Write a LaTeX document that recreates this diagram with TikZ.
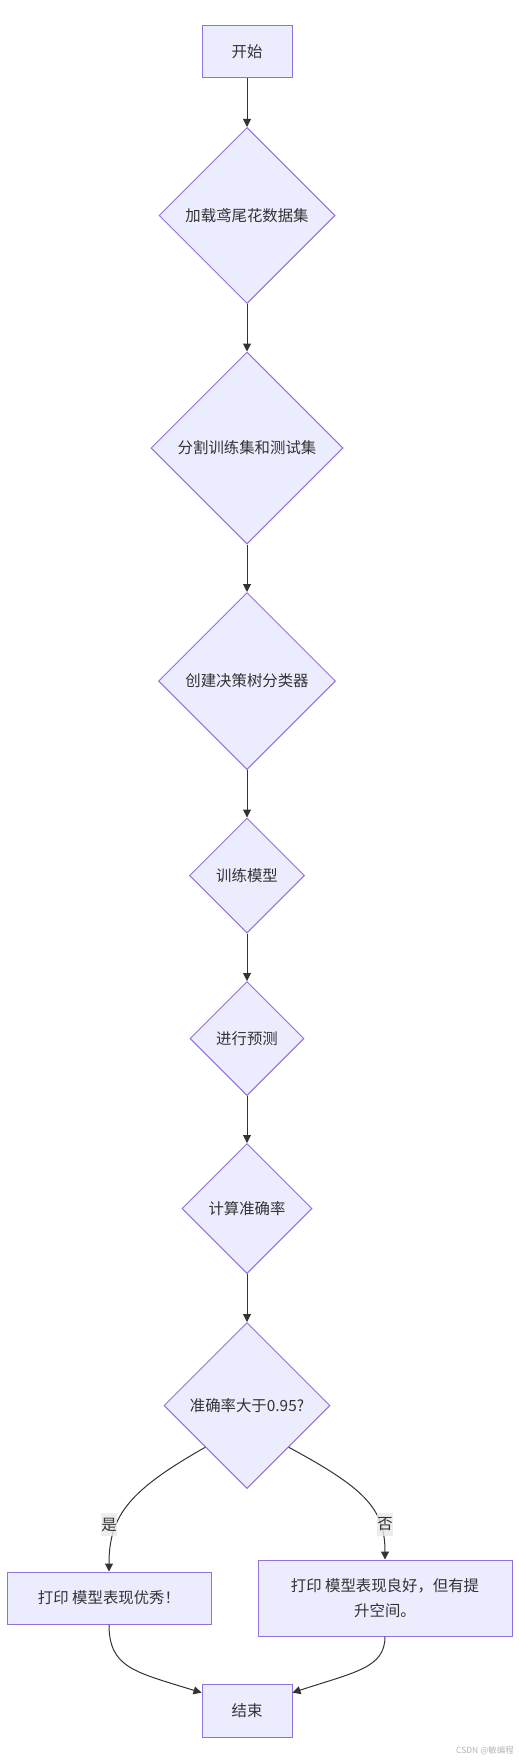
\documentclass[tikz,border=0pt]{standalone}
\usepackage{fontspec}
\setmainfont{Noto Sans CJK SC}
\usetikzlibrary{shapes.geometric,arrows.meta,calc}
\definecolor{nfill}{HTML}{ECECFF}
\definecolor{nstroke}{HTML}{9370DB}
\definecolor{eline}{HTML}{333333}
\definecolor{lblbg}{HTML}{E8E8E8}
\definecolor{wm}{HTML}{B4B4B4}
\tikzset{
  box/.style={draw=nstroke,fill=nfill,line width=1pt,rectangle,inner sep=0pt,text=eline,font=\fontsize{15.4}{25}\selectfont,align=center},
  dia/.style={draw=nstroke,fill=nfill,line width=1pt,diamond,aspect=1,inner sep=0pt,text=eline,font=\fontsize{15.4}{19}\selectfont},
  edge/.style={draw=eline,line width=1pt,-{Triangle[length=8pt,width=8pt]}},
  lbl/.style={fill=lblbg,fill opacity=0.8,text opacity=1,text=eline,inner sep=0pt,minimum width=16pt,minimum height=23pt,font=\fontsize{15.4}{19}\selectfont}
}
\begin{document}
\begin{tikzpicture}[x=1pt,y=-1pt]
\useasboundingbox (0,0) rectangle (519,1763);
\node[box,minimum width=90pt,minimum height=52pt] (start) at (247,52) {开始};
\node[dia,minimum width=176pt,minimum height=176pt] (d1) at (247,215.5) {加载鸢尾花数据集};
\node[dia,minimum width=192pt,minimum height=192pt] (d2) at (247,448) {分割训练集和测试集};
\node[dia,minimum width=177pt,minimum height=177pt] (d3) at (247,681) {创建决策树分类器};
\node[dia,minimum width=115pt,minimum height=115pt] (d4) at (247,875.5) {训练模型};
\node[dia,minimum width=114pt,minimum height=114pt] (d5) at (247,1038.5) {进行预测};
\node[dia,minimum width=130pt,minimum height=130pt] (d6) at (247,1208.5) {计算准确率};
\node[dia,minimum width=166pt,minimum height=166pt] (d7) at (247,1405.5) {准确率大于0.95?};
\node[box,minimum width=204pt,minimum height=52pt] (yes) at (109,1598) {打印 模型表现优秀！};
\node[box,minimum width=254pt,minimum height=76pt] (no) at (385,1598) {打印 模型表现良好，但有提\\升空间。};
\node[box,minimum width=90pt,minimum height=53pt] (end) at (247,1710.5) {结束};

\draw[edge] (start.south) -- (d1.north);
\draw[edge] (d1.south) -- (d2.north);
\draw[edge] (d2.south) -- (d3.north);
\draw[edge] (d3.south) -- (d4.north);
\draw[edge] (d4.south) -- (d5.north);
\draw[edge] (d5.south) -- (d6.north);
\draw[edge] (d6.south) -- (d7.north);

\coordinate (d7l) at ($(d7.south)!0.5!(d7.west)$);
\coordinate (d7r) at ($(d7.south)!0.5!(d7.east)$);
\draw[edge] (d7l) .. controls (130,1490) and (109,1515) .. (yes.north);
\draw[edge] (d7r) .. controls (364,1488) and (385,1508) .. (no.north);
\node[lbl] (lyes) at (109,1524.5) {是};
\node[lbl] (lno) at (385,1524.5) {否};

\coordinate (endl) at ($(end.north west)!0.17!(end.south west)$);
\coordinate (endr) at ($(end.north east)!0.17!(end.south east)$);
\draw[edge] (yes.south) .. controls (109,1668) and (135,1672) .. (endl);
\draw[edge] (no.south) .. controls (385,1668) and (355,1672) .. (endr);

\node[text=wm,font=\fontsize{8.5}{10}\selectfont,inner sep=0pt,anchor=east] (wmark) at (514,1751) {CSDN @敏编程};
\end{tikzpicture}
\end{document}
